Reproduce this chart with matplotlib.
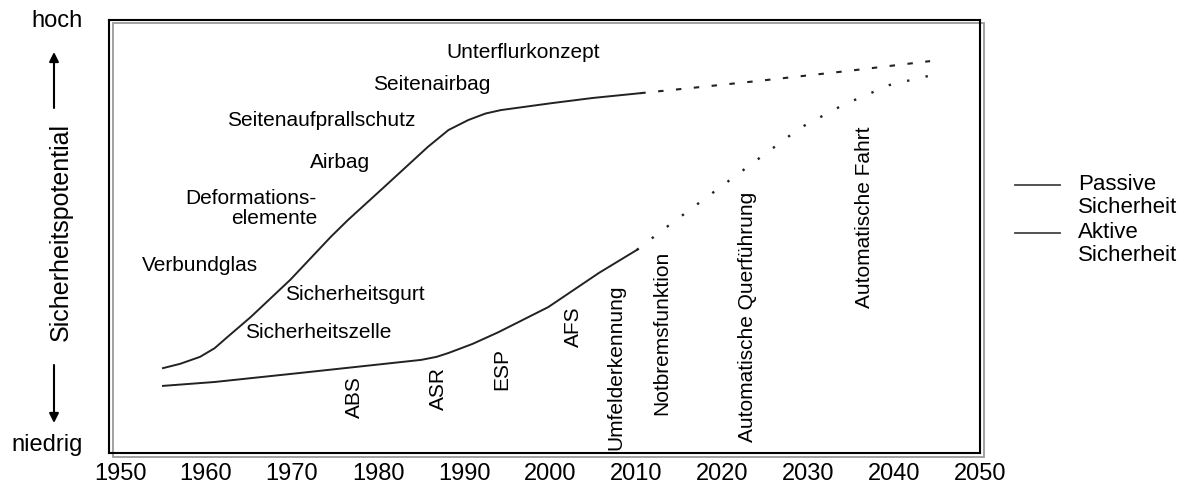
import matplotlib
matplotlib.use("Agg")
import matplotlib.pyplot as plt
from matplotlib.lines import Line2D
from matplotlib.patches import Rectangle
from matplotlib.transforms import ScaledTranslation

plt.rcParams["font.family"] = ["Liberation Sans", "DejaVu Sans"]

# ── Data ───────────────────────────────────────────────────────────────────
passive_years = [1955, 1957.0, 1959.3, 1961.0, 1962.5, 1965.2, 1969.8, 1974.5,
                 1976.5, 1980.7, 1985.8, 1988.2, 1990.5, 1992.5, 1994.3,
                 2000.2, 2005.0, 2010.5]
passive_vals = [19.6, 20.6, 22.2, 24.2, 26.8, 31.4, 40.0, 49.9,
                53.8, 61.4, 70.7, 74.6, 76.9, 78.4, 79.2,
                80.8, 82.0, 83.1]
passive_future_years = [2010.5, 2017.4, 2024.1, 2034.5, 2044.2]
passive_future_vals = [83.1, 84.5, 85.9, 88.2, 90.5]

active_years = [1955, 1961.0, 1971.0, 1978.0, 1985.0, 1986.8, 1988.2, 1991.0,
                1994.0, 1999.8, 2005.7, 2010.1]
active_vals = [15.5, 16.4, 18.5, 20.0, 21.5, 22.2, 23.1, 25.2,
               27.9, 33.7, 41.6, 46.9]
active_future_years = [2010.1, 2013.1, 2019.8, 2029.1, 2034.1, 2039.5, 2044.5]
active_future_vals = [46.9, 51.5, 61.4, 75.1, 80.4, 85.0, 87.3]

# passive safety measures
passive_labels = ["Unterflurkonzept", "Seitenairbag", "Seitenaufprallschutz",
                  "Airbag", "Deformations-\nelemente", "Verbundglas",
                  "Sicherheitsgurt", "Sicherheitszelle"]
passive_lab_x = [1996.9, 1986.2, 1973.4, 1975.6, 1972.9, 1952.6, 1969.2, 1964.5]
passive_lab_y = [92.4, 85.0, 76.9, 67.2, 56.5, 43.4, 36.5, 27.9]
passive_lab_ha = ["center", "center", "center", "center", "right",
                  "left", "left", "left"]

# active safety measures (vertical text, bottom anchored)
active_labels = ["ABS", "ASR", "ESP", "AFS", "Umfelderkennung",
                 "Notbremsfunktion", "Automatische Querführung",
                 "Automatische Fahrt"]
active_lab_x = [1977.3, 1987.0, 1994.4, 2002.7, 2007.7, 2013.0, 2023.0, 2036.6]
active_lab_y = [8.1, 9.9, 14.5, 24.5, 0.7, 8.8, 2.5, 33.5]

years_ticks = list(range(1950, 2051, 10))

# ── Figure ─────────────────────────────────────────────────────────────────
W, H = 1201, 486
fig = plt.figure(figsize=(W / 100, H / 100), dpi=100)
ax = fig.add_axes([109 / W, 1 - 453 / H, (980 - 109) / W, (453 - 20) / H])
ax.set_xlim(1948.72, 2050)
ax.set_ylim(0, 100)

line_col = "#222222"
ax.plot(passive_years, passive_vals, color=line_col, lw=1.4, zorder=3)
ax.plot(passive_future_years, passive_future_vals, color=line_col, lw=1.5,
        ls=(0, (2.6, 6)), zorder=3)
ax.plot(active_years, active_vals, color=line_col, lw=1.4, zorder=3)
ax.plot(active_future_years, active_future_vals, color=line_col, lw=1.7,
        ls=(0, (1, 7)), zorder=3)

for lab, x, y, ha in zip(passive_labels, passive_lab_x, passive_lab_y, passive_lab_ha):
    ax.text(x, y, lab, ha=ha, va="center", fontsize=15, linespacing=1.05)

for lab, x, y in zip(active_labels, active_lab_x, active_lab_y):
    ax.text(x, y, lab, ha="center", va="bottom", rotation=90, fontsize=15)

ax.set_xticks(years_ticks)
ax.set_yticks([])
ax.tick_params(axis="x", length=0, pad=7, labelsize=17)
for s in ax.spines.values():
    s.set_linewidth(1.5)
    s.set_color("black")

# grey shadow frame, shifted down-right
shadow = Rectangle((0, 0), 1, 1, fill=False, ec="#9a9a9a", lw=1.3,
                   transform=ax.transAxes + ScaledTranslation(0.035, -0.035, fig.dpi_scale_trans),
                   clip_on=False, zorder=1)
ax.add_patch(shadow)

# ── y-axis description ─────────────────────────────────────────────────────
fig.text(57 / W, 1 - 21 / H, "hoch", ha="center", va="center", fontsize=17)
fig.text(47 / W, 1 - 445 / H, "niedrig", ha="center", va="center", fontsize=17)
fig.text(61 / W, 1 - 232 / H, "Sicherheitspotential", ha="center", va="center",
         rotation=90, fontsize=18)
arrow = dict(arrowstyle="-|>", lw=1.5, color="black", mutation_scale=14,
             shrinkA=0, shrinkB=0)
ax.annotate("", xy=(54, H - 52), xytext=(54, H - 108),
            xycoords="figure pixels", textcoords="figure pixels", arrowprops=arrow)
ax.annotate("", xy=(54, H - 423), xytext=(54, H - 365),
            xycoords="figure pixels", textcoords="figure pixels", arrowprops=arrow)

# ── legend (drawn by hand, handle aligned with first text line) ───────────
for ly, txt in [(185, "Passive\nSicherheit"), (233, "Aktive\nSicherheit")]:
    fig.add_artist(Line2D([1015 / W, 1060 / W], [1 - ly / H] * 2,
                          color="#444444", lw=1.3))
    fig.text(1078 / W, 1 - (ly - 11) / H, txt, ha="left", va="top",
             fontsize=16, linespacing=1.15)

fig.savefig("out.png", dpi=100)
